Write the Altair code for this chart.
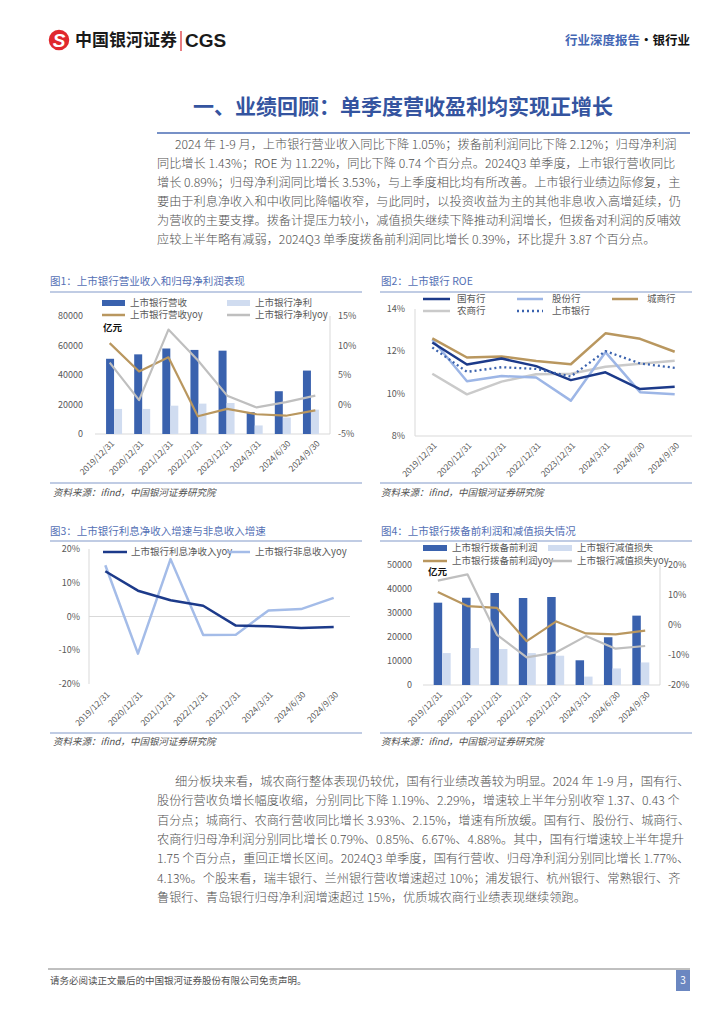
import altair as alt
import pandas as pd

FONT = "Noto Sans CJK SC"

# ---------------- data ----------------
cats = ["2019/12/31", "2020/12/31", "2021/12/31", "2022/12/31",
        "2023/12/31", "2024/3/31", "2024/6/30", "2024/9/30"]

# Fig 1 (亿元 / %)
rev = [51000, 54000, 58000, 57000, 56500, 14800, 29000, 43000]
netp = [17000, 17000, 19200, 20600, 21000, 5800, 11200, 16500]
rev_yoy = [10.4, 5.6, 8.0, -2.0, -0.75, -1.65, -1.9, -1.0]
netp_yoy = [7.1, 0.75, 12.7, 7.5, 1.5, -0.5, 0.4, 1.5]
f1_left = ["0", "20000", "40000", "60000", "80000"]
f1_right = ["-5%", "0%", "5%", "10%", "15%"]

# Fig 2 ROE (%)
roe_state = [12.42, 11.38, 11.66, 11.30, 10.64, 11.01, 10.22, 10.33]
roe_joint = [12.56, 10.59, 10.83, 10.76, 9.67, 11.96, 10.07, 9.97]
roe_city = [12.61, 11.71, 11.76, 11.54, 11.39, 12.85, 12.59, 11.98]
roe_rural = [10.94, 9.97, 10.57, 10.92, 10.94, 11.27, 11.41, 11.55]
roe_all = [12.18, 11.03, 11.25, 11.17, 10.81, 12.01, 11.43, 11.22]
f2_ticks = ["8%", "10%", "12%", "14%"]

# Fig 3 (%)
nii_yoy = [13.4, 7.65, 4.8, 3.2, -2.7, -2.9, -3.4, -3.1]
nonii_yoy = [15.2, -11.0, 17.0, -5.5, -5.4, 1.8, 2.2, 5.5]
f3_ticks = ["-20%", "-10%", "0%", "10%", "20%"]

# Fig 4 (亿元 / %)
ppop = [34300, 36400, 38300, 36250, 36700, 10300, 19900, 28900]
impair = [13300, 15400, 15000, 13300, 12200, 3500, 6900, 9400]
ppop_yoy = [11.0, 6.3, 5.7, -5.4, 1.2, -2.8, -3.1, -1.9]
impair_yoy = [14.8, 16.9, -3.3, -10.8, -9.1, -3.7, -7.9, -7.0]
f4_left = ["0", "10000", "20000", "30000", "40000", "50000"]
f4_right = ["-20%", "-10%", "0%", "10%", "20%"]

para1 = [
    "2024 年 1-9 月，上市银行营业收入同比下降 1.05%；拨备前利润同比下降 2.12%；归母净利润",
    "同比增长 1.43%；ROE 为 11.22%，同比下降 0.74 个百分点。2024Q3 单季度，上市银行营收同比",
    "增长 0.89%；归母净利润同比增长 3.53%，与上季度相比均有所改善。上市银行业绩边际修复，主",
    "要由于利息净收入和中收同比降幅收窄，与此同时，以投资收益为主的其他非息收入高增延续，仍",
    "为营收的主要支撑。拨备计提压力较小，减值损失继续下降推动利润增长，但拨备对利润的反哺效",
    "应较上半年略有减弱，2024Q3 单季度拨备前利润同比增长 0.39%，环比提升 3.87 个百分点。",
]
para2 = [
    "细分板块来看，城农商行整体表现仍较优，国有行业绩改善较为明显。2024 年 1-9 月，国有行、",
    "股份行营收负增长幅度收缩，分别同比下降 1.19%、2.29%，增速较上半年分别收窄 1.37、0.43 个",
    "百分点；城商行、农商行营收同比增长 3.93%、2.15%，增速有所放缓。国有行、股份行、城商行、",
    "农商行归母净利润分别同比增长 0.79%、0.85%、6.67%、4.88%。其中，国有行增速较上半年提升",
    "1.75 个百分点，重回正增长区间。2024Q3 单季度，国有行营收、归母净利润分别同比增长 1.77%、",
    "4.13%。个股来看，瑞丰银行、兰州银行营收增速超过 10%；浦发银行、杭州银行、常熟银行、齐",
    "鲁银行、青岛银行归母净利润增速超过 15%，优质城农商行业绩表现继续领跑。",
]

# ---------------- styles ----------------
DARK = "#3A62AE"; LIGHT = "#D0DCF0"; GOLD = "#B9975F"; GRAY = "#BFBFBF"
NAVY = "#1C3A8A"; LBLUE = "#9DB6E6"; LGRAY = "#CACACA"
AXC = "#D9D9D9"; LAB = "#595959"; SEP = "#8299CA"; TXT = "#505050"
TBLUE = "#34549F"; FBLUE = "#5470B5"

ONE = pd.DataFrame({"k": [0]})
idx = list(range(len(cats)))


def P(v):
    return v - 8


def T(s, x, y, size=10, color=TXT, bold=False, italic=False, align="left", font=FONT):
    kw = dict(text=s, font=font, fontSize=size, color=color, align=align, baseline="middle")
    if bold:
        kw["fontWeight"] = "bold"
    if italic:
        kw["fontStyle"] = "italic"
    return alt.Chart(ONE).mark_text(**kw).encode(x=alt.value(P(x)), y=alt.value(P(y)))


def HR(x0, x1, y, color, w=1.0, dash=None):
    kw = dict(color=color, strokeWidth=w)
    if dash:
        kw["strokeDash"] = dash
    return alt.Chart(ONE).mark_rule(**kw).encode(
        x=alt.value(P(x0)), x2=alt.value(P(x1)), y=alt.value(P(y)))


def VR(x, y0, y1, color, w=1.0):
    return alt.Chart(ONE).mark_rule(color=color, strokeWidth=w).encode(
        x=alt.value(P(x)), y=alt.value(P(y0)), y2=alt.value(P(y1)))


def RECT(x0, x1, y0, y1, color):
    return alt.Chart(ONE).mark_rect(color=color).encode(
        x=alt.value(P(x0)), x2=alt.value(P(x1)), y=alt.value(P(y0)), y2=alt.value(P(y1)))


def xsc(x0, x1):
    return alt.Scale(domain=[-0.5, len(cats) - 0.5], range=[P(x0), P(x1)], nice=False, zero=False)


def ysc(dom, ybot, ytop):
    return alt.Scale(domain=dom, range=[P(ybot), P(ytop)], nice=False, zero=False)


def bars(df, field, xs, ys, color, size, off):
    return alt.Chart(df).mark_bar(size=size, xOffset=off, color=color).encode(
        x=alt.X("i:Q", scale=xs, axis=None), y=alt.Y(f"{field}:Q", scale=ys, axis=None))


def line(df, field, xs, ys, color, w=2.2, dash=None):
    kw = dict(color=color, strokeWidth=w, strokeJoin="round")
    if dash:
        kw["strokeDash"] = dash
    return alt.Chart(df).mark_line(**kw).encode(
        x=alt.X("i:Q", scale=xs, axis=None), y=alt.Y(f"{field}:Q", scale=ys, axis=None))


def yticks(labels, ys, x, align):
    d = pd.DataFrame({"v": [float(l.replace("%", "")) for l in labels], "lab": labels})
    return alt.Chart(d).mark_text(font=FONT, fontSize=9, color=LAB, align=align,
                                  baseline="middle").encode(
        x=alt.value(P(x)), y=alt.Y("v:Q", scale=ys, axis=None), text="lab:N")


def xlabels(df, xs, y):
    return alt.Chart(df).mark_text(font=FONT, fontSize=8.5, color=LAB, angle=315,
                                   align="right", baseline="middle", xOffset=3).encode(
        x=alt.X("i:Q", scale=xs, axis=None), y=alt.value(P(y)), text="cat:N")


def paragraph(lines, y0, y1):
    d = pd.DataFrame({"r": list(range(len(lines))), "t": lines})
    ys = alt.Scale(domain=[0, len(lines) - 1], range=[P(y0), P(y1)], nice=False, zero=False)
    base = alt.Chart(d).mark_text(font=FONT, fontSize=12.2, color=TXT, align="left",
                                  baseline="middle", fontWeight=300)
    first = base.transform_filter("datum.r == 0").encode(
        x=alt.value(P(175)), y=alt.Y("r:Q", scale=ys, axis=None), text="t:N")
    rest = base.transform_filter("datum.r > 0").encode(
        x=alt.value(P(157)), y=alt.Y("r:Q", scale=ys, axis=None), text="t:N")
    return [first, rest]


layers = []

# ---------------- header ----------------
layers.append(alt.Chart(ONE).mark_circle(size=420, color="#E0282E", opacity=1).encode(
    x=alt.value(P(59)), y=alt.value(P(40))))
layers.append(T("S", 59, 41, size=19, color="white", bold=True, italic=True, align="center",
                font="Liberation Sans"))
layers.append(T("中国银河证券", 75, 41, size=17, color="#1A1A1A", bold=True))
layers.append(VR(181, 31, 51, "#D9262C", 1.2))
layers.append(T("CGS", 185, 41, size=19, color="#1A1A1A", bold=True, font="Liberation Sans"))
layers.append(T("行业深度报告", 565, 41, size=12.5, color="#4467B4", bold=True))
layers.append(T("·银行业", 640, 41, size=12.5, color="#111111", bold=True))

layers.append(T("一、业绩回顾：单季度营收盈利均实现正增长", 193, 108, size=21, color=TBLUE, bold=True))
layers.append(HR(157, 690, 133, "#4A6CB5", 1.5))
layers += paragraph(para1, 145, 240)

# ---------------- figure frames ----------------
for (x0, x1) in [(50, 362), (380, 692)]:
    layers.append(HR(x0, x1, 292, SEP, 1.2))
    layers.append(HR(x0, x1, 483, SEP, 1.2))
    layers.append(HR(x0, x1, 541, SEP, 1.2))
    layers.append(HR(x0, x1, 733, SEP, 1.2))
layers.append(T("图1：上市银行营业收入和归母净利润表现", 50, 282, size=10.5, color=FBLUE))
layers.append(T("图2：上市银行 ROE", 381, 282, size=10.5, color=FBLUE))
layers.append(T("图3：上市银行利息净收入增速与非息收入增速", 50, 532, size=10.5, color=FBLUE))
layers.append(T("图4：上市银行拨备前利润和减值损失情况", 381, 532, size=10.5, color=FBLUE))
for (x, y) in [(53, 493), (381, 493), (53, 742), (381, 742)]:
    layers.append(T("资料来源：ifind，中国银河证券研究院", x, y, size=9.5, color=TXT, italic=True))

# ---------------- Fig 1 ----------------
df1 = pd.DataFrame({"i": idx, "cat": cats, "rev": rev, "netp": netp,
                    "rev_yoy": rev_yoy, "netp_yoy": netp_yoy})
xs1 = xsc(95, 330)
yl1 = ysc([0, 80000], 434, 316)
yr1 = ysc([-5, 15], 434, 316)
layers.append(HR(95, 330, 434, AXC))
layers.append(VR(330, 316, 434, AXC))
layers.append(bars(df1, "rev", xs1, yl1, DARK, 8, -4))
layers.append(bars(df1, "netp", xs1, yl1, LIGHT, 8, 4))
layers.append(line(df1, "rev_yoy", xs1, yr1, GOLD, 2.2))
layers.append(line(df1, "netp_yoy", xs1, yr1, GRAY, 2.2))
layers.append(yticks(f1_left, yl1, 83, "right"))
layers.append(yticks(f1_right, yr1, 338, "left"))
layers.append(xlabels(df1, xs1, 442))
layers.append(RECT(102, 125, 300, 306, DARK))
layers.append(T("上市银行营收", 130, 303, size=9.5, color=LAB))
layers.append(RECT(227, 250, 300, 306, LIGHT))
layers.append(T("上市银行净利", 255, 303, size=9.5, color=LAB))
layers.append(HR(102, 125, 315, GOLD, 2.5))
layers.append(T("上市银行营收yoy", 130, 315, size=9.5, color=LAB))
layers.append(HR(227, 250, 315, GRAY, 2.5))
layers.append(T("上市银行净利yoy", 255, 315, size=9.5, color=LAB))
layers.append(T("亿元", 103, 328, size=9.5, color="#111111", bold=True))

# ---------------- Fig 2 ----------------
df2 = pd.DataFrame({"i": idx, "cat": cats, "state": roe_state, "joint": roe_joint,
                    "city": roe_city, "rural": roe_rural, "all": roe_all})
xs2 = xsc(415, 692)
ys2 = ysc([8, 14], 436, 309)
layers.append(HR(415, 692, 436, AXC))
layers.append(VR(415, 309, 436, AXC))
layers.append(line(df2, "rural", xs2, ys2, LGRAY, 2.5))
layers.append(line(df2, "joint", xs2, ys2, LBLUE, 2.5))
layers.append(line(df2, "city", xs2, ys2, GOLD, 2.5))
layers.append(line(df2, "state", xs2, ys2, NAVY, 2.5))
layers.append(line(df2, "all", xs2, ys2, DARK, 2.3, dash=[2, 3]))
layers.append(yticks(f2_ticks, ys2, 405, "right"))
layers.append(xlabels(df2, xs2, 444))
layers.append(HR(423, 450, 299, NAVY, 2.5))
layers.append(T("国有行", 457, 299, size=9.5, color=LAB))
layers.append(HR(517, 543, 299, LBLUE, 2.5))
layers.append(T("股份行", 552, 299, size=9.5, color=LAB))
layers.append(HR(612, 638, 299, GOLD, 2.5))
layers.append(T("城商行", 647, 299, size=9.5, color=LAB))
layers.append(HR(423, 450, 311, LGRAY, 2.5))
layers.append(T("农商行", 457, 311, size=9.5, color=LAB))
layers.append(HR(517, 543, 311, DARK, 2.3, dash=[2, 3]))
layers.append(T("上市银行", 552, 311, size=9.5, color=LAB))

# ---------------- Fig 3 ----------------
df3 = pd.DataFrame({"i": idx, "cat": cats, "nii": nii_yoy, "nonii": nonii_yoy})
xs3 = xsc(89, 350)
ys3 = ysc([-20, 20], 684, 549)
layers.append(VR(89, 549, 684, AXC))
zero3 = pd.DataFrame({"v": [0]})
layers.append(alt.Chart(zero3).mark_rule(color=AXC, strokeWidth=1).encode(
    x=alt.value(P(89)), x2=alt.value(P(350)), y=alt.Y("v:Q", scale=ys3, axis=None)))
layers.append(line(df3, "nonii", xs3, ys3, "#A4BCE8", 2.5))
layers.append(line(df3, "nii", xs3, ys3, NAVY, 2.5))
layers.append(yticks(f3_ticks, ys3, 80, "right"))
layers.append(xlabels(df3, xs3, 693))
layers.append(HR(103, 127, 552, NAVY, 2.5))
layers.append(T("上市银行利息净收入yoy", 131, 552, size=9.5, color=LAB))
layers.append(HR(227, 250, 552, "#A4BCE8", 2.5))
layers.append(T("上市银行非息收入yoy", 255, 552, size=9.5, color=LAB))

# ---------------- Fig 4 ----------------
df4 = pd.DataFrame({"i": idx, "cat": cats, "ppop": ppop, "impair": impair,
                    "ppop_yoy": ppop_yoy, "impair_yoy": impair_yoy})
xs4 = xsc(423, 660)
yl4 = ysc([0, 50000], 685, 565)
yr4 = ysc([-20, 20], 685, 565)
layers.append(HR(423, 660, 685, AXC))
layers.append(VR(660, 565, 685, AXC))
layers.append(bars(df4, "ppop", xs4, yl4, DARK, 8.5, -4.25))
layers.append(bars(df4, "impair", xs4, yl4, LIGHT, 8.5, 4.25))
layers.append(line(df4, "ppop_yoy", xs4, yr4, GOLD, 2.2))
layers.append(line(df4, "impair_yoy", xs4, yr4, GRAY, 2.2))
layers.append(yticks(f4_left, yl4, 412, "right"))
layers.append(yticks(f4_right, yr4, 668, "left"))
layers.append(xlabels(df4, xs4, 693))
layers.append(RECT(423, 447, 545, 551, DARK))
layers.append(T("上市银行拨备前利润", 452, 548, size=9.5, color=LAB))
layers.append(RECT(548, 572, 545, 551, LIGHT))
layers.append(T("上市银行减值损失", 577, 548, size=9.5, color=LAB))
layers.append(HR(423, 447, 561, GOLD, 2.5))
layers.append(T("上市银行拨备前利润yoy", 452, 561, size=9.5, color=LAB))
layers.append(HR(548, 572, 561, GRAY, 2.5))
layers.append(T("上市银行减值损失yoy", 577, 561, size=9.5, color=LAB))
layers.append(T("亿元", 428, 572, size=9.5, color="#111111", bold=True))

# ---------------- second paragraph & footer ----------------
layers += paragraph(para2, 782, 898)
layers.append(HR(48, 690, 969, "#808080", 1))
layers.append(T("请务必阅读正文最后的中国银河证券股份有限公司免责声明。", 50, 981, size=9.5, color=TXT))
layers.append(RECT(676, 690, 970, 991, "#6B87C1"))
layers.append(T("3", 683, 981, size=10, color="white", align="center"))

chart = alt.layer(*layers).resolve_scale(
    x="independent", y="independent"
).properties(
    width=708, height=1008, padding=0,
    autosize=alt.AutoSizeParams(type="none"),
).configure_view(stroke=None)

chart.save("out.html", embed_options={"renderer": "svg", "actions": False})
